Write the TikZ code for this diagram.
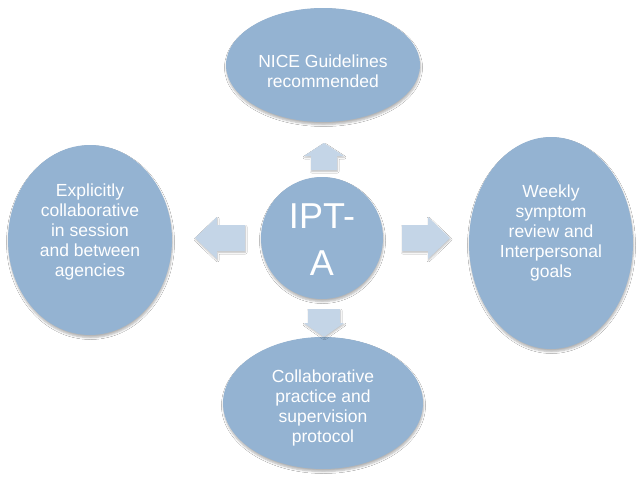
\documentclass[tikz,border=0pt]{standalone}
\usepackage{fontspec}
\setmainfont{Liberation Sans}
\usetikzlibrary{shapes.geometric,shadows.blur}
\definecolor{ellc}{RGB}{148,179,210}
\definecolor{arrc}{RGB}{196,213,231}
\tikzset{
  bubble/.style={ellipse, fill=ellc, draw=none, inner sep=0pt,
    blur shadow={shadow xshift=0.5pt, shadow yshift=-2.5pt, shadow blur radius=2pt, shadow blur steps=5, shadow opacity=30}},
  btext/.style={text=white, align=center, font=\fontsize{17.5}{20}\selectfont, inner sep=0pt},
  blockarrow/.style={fill=arrc, draw=none,
    blur shadow={shadow xshift=0.5pt, shadow yshift=-1.5pt, shadow blur radius=1.5pt, shadow blur steps=4, shadow opacity=25}}
}
\begin{document}
\begin{tikzpicture}[x=1pt,y=-1pt]
\useasboundingbox (0,0) rectangle (638,479);
\fill[white] (0,0) rectangle (638,479);
% ellipses
\node[bubble, minimum width=194pt, minimum height=114pt] (top) at (323,65) {};
\node[bubble, minimum width=164pt, minimum height=190pt] (left) at (90,240) {};
\node[bubble, minimum width=164pt, minimum height=212pt] (right) at (551,243) {};
\node[bubble, minimum width=200pt, minimum height=132pt] (bot) at (323,403) {};
\node[bubble, circle, minimum size=122pt] (ctr) at (322,238) {};
% texts
\node[btext] (toptxt) at ([yshift=-6pt]top.center) {NICE Guidelines\\recommended};
\node[btext] (lefttxt) at ([yshift=8pt]left.center) {Explicitly\\collaborative\\in session\\and between\\agencies};
\node[btext] (righttxt) at ([yshift=10pt]right.center) {Weekly\\symptom\\review and\\Interpersonal\\goals};
\node[btext] (bottxt) at ([yshift=-5pt]bot.center) {Collaborative\\practice and\\supervision\\protocol};
\node[text=white, align=center, font=\fontsize{36}{47}\selectfont, inner sep=0pt] (ctrtxt) at ([yshift=-2pt]ctr.center) {IPT-\\A};
% block arrows
\coordinate (au) at (324,156);
\coordinate (ad) at (324,323);
\coordinate (al) at (217,238);
\coordinate (ar) at (428,238);
\fill[blockarrow] ([shift={(-13,14)}]au) -- ([shift={(-13,0)}]au) -- ([shift={(-20,0)}]au) -- ([shift={(0,-13)}]au) -- ([shift={(20,0)}]au) -- ([shift={(13,0)}]au) -- ([shift={(13,14)}]au) -- cycle;
\fill[blockarrow] ([shift={(-16,-14)}]ad) -- ([shift={(-16,0)}]ad) -- ([shift={(-20,0)}]ad) -- ([shift={(0,14)}]ad) -- ([shift={(20,0)}]ad) -- ([shift={(16,0)}]ad) -- ([shift={(16,-14)}]ad) -- cycle;
\fill[blockarrow] ([shift={(28,-13)}]al) -- ([shift={(0,-13)}]al) -- ([shift={(0,-21)}]al) -- ([shift={(-22,0)}]al) -- ([shift={(0,21)}]al) -- ([shift={(0,13)}]al) -- ([shift={(28,13)}]al) -- cycle;
\fill[blockarrow] ([shift={(-26,-13)}]ar) -- ([shift={(0,-13)}]ar) -- ([shift={(0,-21)}]ar) -- ([shift={(22,0)}]ar) -- ([shift={(0,21)}]ar) -- ([shift={(0,13)}]ar) -- ([shift={(-26,13)}]ar) -- cycle;
\end{tikzpicture}
\end{document}
